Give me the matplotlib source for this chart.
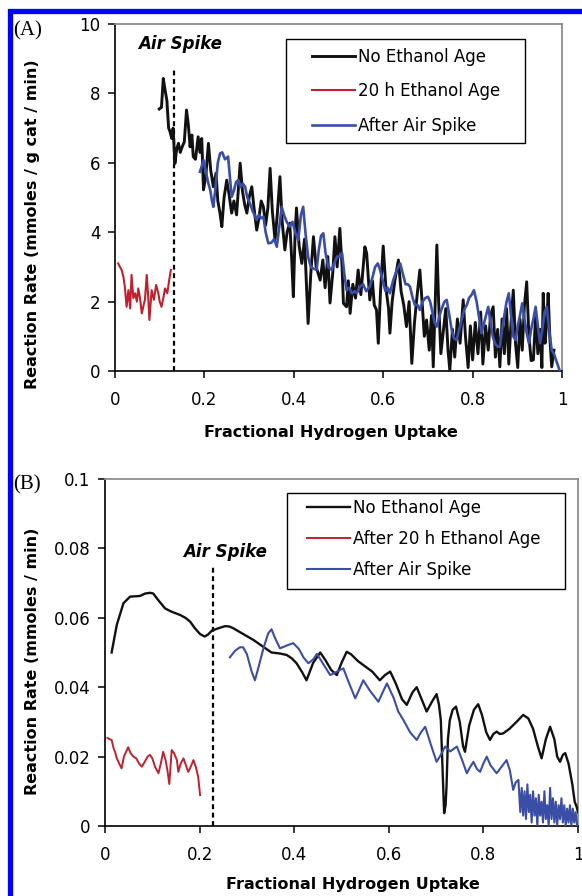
import matplotlib
matplotlib.use('Agg')
import matplotlib.pyplot as plt
from matplotlib.patches import Rectangle

plt.rcParams['font.family'] = ['DejaVu Sans']

# ---------------- Panel A data (rate in mmoles / g cat / min) ----------------
a_black_x = [0.099, 0.104, 0.108, 0.112, 0.116, 0.120, 0.123, 0.127, 0.130, 0.134, 0.138, 0.142, 0.146, 0.150,
             0.155, 0.160, 0.164, 0.168, 0.172, 0.175, 0.180, 0.186, 0.190, 0.194, 0.198, 0.203, 0.209, 0.214,
             0.220, 0.226, 0.230, 0.235, 0.239, 0.244, 0.250, 0.255, 0.261, 0.266, 0.272, 0.280, 0.285, 0.290,
             0.295, 0.300, 0.306, 0.311, 0.317, 0.322, 0.327, 0.332, 0.337, 0.342, 0.347, 0.352, 0.358, 0.363,
             0.369, 0.374, 0.380, 0.385, 0.391, 0.395, 0.399, 0.403, 0.406, 0.412, 0.418, 0.424, 0.432, 0.438,
             0.444, 0.450, 0.459, 0.465, 0.470, 0.476, 0.481, 0.487, 0.492, 0.497, 0.503, 0.508, 0.511, 0.518,
             0.522, 0.526, 0.532, 0.538, 0.544, 0.550, 0.559, 0.563, 0.570, 0.576, 0.580, 0.585, 0.589, 0.594,
             0.600, 0.606, 0.612, 0.615, 0.620, 0.626, 0.634, 0.640, 0.646, 0.652, 0.658, 0.664, 0.670, 0.676,
             0.682, 0.688, 0.692, 0.697, 0.703, 0.708, 0.712, 0.716, 0.720, 0.724, 0.729, 0.734, 0.740, 0.745,
             0.749, 0.755, 0.760, 0.766, 0.772, 0.779, 0.784, 0.790, 0.795, 0.800, 0.806, 0.812, 0.818, 0.823,
             0.829, 0.835, 0.840, 0.846, 0.851, 0.856, 0.861, 0.866, 0.871, 0.876, 0.881, 0.886, 0.891, 0.896,
             0.901, 0.906, 0.911, 0.916, 0.921, 0.926, 0.931, 0.936, 0.941, 0.946, 0.951, 0.955, 0.958, 0.962,
             0.966, 0.969, 0.973, 0.977, 0.982]
a_black_y = [7.55, 7.60, 8.43, 8.10, 7.80, 7.00, 6.90, 6.70, 7.00, 5.98, 6.40, 6.56, 6.30, 6.45,
             6.60, 7.52, 7.10, 6.46, 6.80, 6.18, 6.10, 6.75, 6.30, 6.70, 5.22, 5.60, 6.56, 5.80,
             5.31, 5.70, 4.90, 4.54, 4.16, 5.00, 5.50, 5.10, 4.55, 4.90, 4.50, 5.99, 5.20, 4.80,
             4.55, 5.00, 5.31, 4.70, 4.06, 4.40, 4.90, 4.73, 4.20, 4.70, 5.84, 4.60, 3.78, 4.50,
             5.60, 4.30, 3.49, 4.00, 4.26, 3.30, 2.14, 4.00, 4.70, 3.60, 3.10, 3.80, 1.37, 2.80,
             3.87, 3.00, 2.62, 3.20, 2.40, 3.30, 1.96, 2.80, 3.87, 3.00, 4.11, 3.00, 1.95, 1.85,
             2.60, 1.66, 2.50, 2.10, 2.91, 2.20, 3.58, 3.39, 2.05, 2.60, 1.90, 1.76, 0.80, 2.30,
             3.60, 2.40, 1.80, 1.09, 2.00, 2.60, 3.20, 2.30, 1.90, 1.28, 2.00, 0.22, 1.40, 2.20,
             2.91, 1.80, 1.00, 1.47, 0.60, 1.60, 0.12, 1.80, 3.63, 2.00, 0.50, 1.09, 1.80, 0.60,
             0.03, 1.20, 0.40, 1.50, 0.80, 2.05, 1.00, 0.10, 1.30, 0.32, 1.40, 0.50, 1.70, 0.20,
             1.30, 0.60, 1.60, 1.85, 0.40, 1.20, 0.12, 1.50, 0.50, 1.80, 0.20, 1.40, 2.33, 0.80,
             0.10, 1.50, 0.60, 1.90, 2.57, 1.00, 0.30, 0.32, 1.60, 0.50, 1.20, 0.10, 2.24, 0.80,
             1.40, 2.24, 0.90, 0.12, 0.60]

a_red_x = [0.007, 0.011, 0.015, 0.019, 0.022, 0.026, 0.030, 0.034, 0.037, 0.041, 0.045, 0.049, 0.052, 0.056,
           0.060, 0.064, 0.067, 0.071, 0.074, 0.077, 0.080, 0.082, 0.087, 0.092, 0.097, 0.100, 0.104, 0.108,
           0.112, 0.117, 0.121, 0.125]
a_red_y = [3.10, 3.00, 2.91, 2.70, 2.43, 1.85, 2.33, 1.80, 2.77, 2.10, 2.24, 2.00, 2.38, 2.10,
           1.66, 1.90, 2.05, 2.77, 2.20, 1.47, 2.00, 2.33, 2.05, 2.48, 2.24, 2.00, 1.85, 2.10,
           2.38, 2.24, 2.60, 2.91]

a_blue_x = [0.190, 0.194, 0.198, 0.204, 0.209, 0.213, 0.217, 0.220, 0.225, 0.230, 0.235, 0.240, 0.246, 0.253,
            0.257, 0.261, 0.266, 0.271, 0.276, 0.281, 0.286, 0.291, 0.296, 0.302, 0.308, 0.312, 0.317, 0.322,
            0.327, 0.332, 0.337, 0.343, 0.350, 0.356, 0.362, 0.368, 0.373, 0.378, 0.384, 0.391, 0.397, 0.403,
            0.410, 0.416, 0.421, 0.426, 0.432, 0.438, 0.444, 0.451, 0.456, 0.461, 0.466, 0.471, 0.477, 0.485,
            0.490, 0.497, 0.503, 0.508, 0.513, 0.518, 0.524, 0.530, 0.536, 0.541, 0.548, 0.555, 0.562, 0.570,
            0.576, 0.582, 0.588, 0.593, 0.599, 0.605, 0.610, 0.615, 0.622, 0.630, 0.638, 0.644, 0.650, 0.655,
            0.660, 0.666, 0.671, 0.677, 0.682, 0.688, 0.694, 0.700, 0.705, 0.710, 0.715, 0.720, 0.726, 0.731,
            0.737, 0.742, 0.748, 0.753, 0.758, 0.764, 0.770, 0.776, 0.781, 0.787, 0.792, 0.798, 0.803, 0.809,
            0.815, 0.820, 0.824, 0.830, 0.835, 0.840, 0.845, 0.850, 0.856, 0.861, 0.866, 0.871, 0.876, 0.881,
            0.886, 0.891, 0.896, 0.901, 0.906, 0.911, 0.916, 0.921, 0.926, 0.931, 0.936, 0.941, 0.946, 0.951,
            0.956, 0.961, 0.966, 0.971, 0.977, 0.982, 0.987, 0.992, 0.995]
a_blue_y = [5.74, 5.90, 6.08, 5.70, 5.40, 5.22, 4.90, 4.73, 5.30, 6.00, 6.27, 6.30, 6.10, 6.18,
            5.60, 5.02, 5.20, 5.45, 5.50, 5.30, 5.40, 5.31, 5.00, 4.83, 4.60, 4.50, 4.35, 4.50,
            4.40, 4.45, 4.00, 3.68, 3.70, 3.80, 3.58, 4.20, 4.73, 4.50, 4.30, 4.16, 4.30, 4.00,
            3.78, 4.50, 4.73, 4.00, 3.29, 3.00, 2.95, 2.91, 3.50, 3.90, 3.97, 3.40, 3.00, 2.91,
            3.10, 3.30, 3.29, 3.40, 2.80, 2.33, 2.40, 2.24, 2.30, 2.24, 2.43, 2.50, 2.30, 2.43,
            2.70, 3.00, 3.10, 2.91, 2.60, 2.30, 2.40, 2.24, 2.60, 2.90, 3.10, 2.80, 2.50, 2.50,
            2.43, 2.10, 1.90, 1.90, 1.76, 2.00, 2.10, 2.14, 2.00, 1.70, 1.40, 1.28, 1.60, 1.80,
            2.00, 2.05, 1.60, 1.20, 0.95, 0.89, 1.20, 1.50, 1.76, 1.90, 2.10, 2.20, 2.33, 2.00,
            1.50, 1.09, 1.30, 1.60, 1.85, 1.40, 1.00, 0.80, 0.70, 0.70, 1.20, 1.60, 2.00, 2.24,
            1.60, 1.00, 0.89, 1.30, 1.60, 1.95, 1.50, 1.10, 0.80, 1.20, 1.50, 1.85, 1.30, 0.80,
            1.20, 1.70, 1.85, 1.20, 0.60, 0.50, 0.30, 0.12, 0.00]

# ---------------- Panel B data (rate in mmoles / min) ----------------
b_black_x = [0.014, 0.025, 0.039, 0.053, 0.065, 0.074, 0.085, 0.095, 0.102, 0.112, 0.127, 0.140, 0.159, 0.170,
             0.180, 0.190, 0.201, 0.211, 0.218, 0.226, 0.240, 0.254, 0.263, 0.271, 0.290, 0.314, 0.335, 0.352,
             0.370, 0.384, 0.395, 0.405, 0.416, 0.426, 0.440, 0.455, 0.466, 0.478, 0.490, 0.500, 0.511, 0.520,
             0.535, 0.546, 0.565, 0.581, 0.592, 0.603, 0.615, 0.628, 0.638, 0.650, 0.659, 0.668, 0.680, 0.692,
             0.701, 0.706, 0.710, 0.714, 0.717, 0.720, 0.722, 0.725, 0.729, 0.735, 0.742, 0.750, 0.757, 0.761,
             0.770, 0.780, 0.789, 0.797, 0.806, 0.814, 0.821, 0.828, 0.835, 0.842, 0.855, 0.870, 0.884, 0.895,
             0.905, 0.915, 0.923, 0.932, 0.941, 0.950, 0.956, 0.962, 0.968, 0.973, 0.980, 0.988, 0.993, 0.997,
             1.000]
b_black_y = [0.0500, 0.0580, 0.0642, 0.0661, 0.0662, 0.0663, 0.0670, 0.0672, 0.0670, 0.0652, 0.0627, 0.0618,
             0.0608, 0.0600, 0.0589, 0.0570, 0.0553, 0.0546, 0.0552, 0.0563, 0.0570, 0.0576, 0.0575, 0.0570,
             0.0555, 0.0536, 0.0516, 0.0500, 0.0497, 0.0493, 0.0483, 0.0469, 0.0445, 0.0420, 0.0470, 0.0500,
             0.0478, 0.0450, 0.0435, 0.0470, 0.0502, 0.0495, 0.0475, 0.0464, 0.0445, 0.0420, 0.0435, 0.0445,
             0.0410, 0.0365, 0.0349, 0.0385, 0.0400, 0.0370, 0.0330, 0.0360, 0.0380, 0.0350, 0.0305, 0.0150,
             0.0037, 0.0060, 0.0113, 0.0250, 0.0305, 0.0335, 0.0344, 0.0300, 0.0230, 0.0214, 0.0290, 0.0335,
             0.0351, 0.0320, 0.0270, 0.0248, 0.0265, 0.0272, 0.0265, 0.0267, 0.0280, 0.0300, 0.0320, 0.0310,
             0.0280, 0.0230, 0.0195, 0.0250, 0.0286, 0.0250, 0.0200, 0.0185, 0.0205, 0.0210, 0.0180, 0.0120,
             0.0070, 0.0056, 0.0040]

b_red_x = [0.005, 0.010, 0.014, 0.018, 0.022, 0.025, 0.030, 0.035, 0.040, 0.045, 0.049, 0.054, 0.060, 0.066,
           0.072, 0.078, 0.084, 0.090, 0.095, 0.100, 0.106, 0.113, 0.118, 0.123, 0.128, 0.132, 0.136, 0.139,
           0.141, 0.146, 0.152, 0.155, 0.160, 0.166, 0.171, 0.176, 0.181, 0.187, 0.192, 0.197, 0.201]
b_red_y = [0.0254, 0.0250, 0.0248, 0.0225, 0.0210, 0.0195, 0.0180, 0.0166, 0.0200, 0.0215, 0.0227, 0.0210,
           0.0200, 0.0195, 0.0180, 0.0171, 0.0185, 0.0200, 0.0205, 0.0195, 0.0170, 0.0152, 0.0180, 0.0214,
           0.0190, 0.0160, 0.0121, 0.0180, 0.0219, 0.0210, 0.0190, 0.0156, 0.0180, 0.0195, 0.0175, 0.0156,
           0.0170, 0.0190, 0.0170, 0.0142, 0.0089]

b_blue_x = [0.264, 0.275, 0.285, 0.292, 0.300, 0.310, 0.317, 0.325, 0.335, 0.345, 0.352, 0.360, 0.370, 0.384,
            0.398, 0.410, 0.420, 0.430, 0.440, 0.448, 0.460, 0.476, 0.487, 0.497, 0.504, 0.515, 0.529, 0.538,
            0.546, 0.560, 0.578, 0.587, 0.596, 0.610, 0.620, 0.631, 0.645, 0.659, 0.668, 0.677, 0.690, 0.701,
            0.710, 0.719, 0.730, 0.744, 0.755, 0.765, 0.772, 0.779, 0.786, 0.793, 0.800, 0.807, 0.815, 0.828,
            0.838, 0.849, 0.856, 0.863, 0.868, 0.874, 0.878, 0.881, 0.884, 0.887, 0.890, 0.893, 0.896, 0.899,
            0.902, 0.905, 0.908, 0.911, 0.914, 0.917, 0.920, 0.923, 0.926, 0.929, 0.932, 0.935, 0.938, 0.941,
            0.944, 0.947, 0.950, 0.953, 0.956, 0.959, 0.962, 0.965, 0.968, 0.971, 0.974, 0.977, 0.980, 0.983,
            0.986, 0.989, 0.992, 0.995, 0.998]
b_blue_y = [0.0486, 0.0505, 0.0515, 0.0515, 0.0495, 0.0445, 0.0420, 0.0460, 0.0512, 0.0555, 0.0567, 0.0540,
            0.0512, 0.0520, 0.0527, 0.0510, 0.0485, 0.0469, 0.0480, 0.0496, 0.0470, 0.0435, 0.0442, 0.0450,
            0.0454, 0.0415, 0.0368, 0.0395, 0.0420, 0.0390, 0.0358, 0.0385, 0.0411, 0.0370, 0.0330, 0.0305,
            0.0270, 0.0248, 0.0270, 0.0286, 0.0230, 0.0185, 0.0205, 0.0229, 0.0215, 0.0229, 0.0190, 0.0152,
            0.0170, 0.0185, 0.0165, 0.0156, 0.0180, 0.0200, 0.0175, 0.0152, 0.0170, 0.0190, 0.0160, 0.0104,
            0.0125, 0.0133, 0.0040, 0.0110, 0.0030, 0.0100, 0.0020, 0.0120, 0.0040, 0.0090, 0.0010, 0.0100,
            0.0030, 0.0080, 0.0000, 0.0090, 0.0030, 0.0070, 0.0010, 0.0100, 0.0020, 0.0060, 0.0000, 0.0110,
            0.0020, 0.0080, 0.0010, 0.0070, 0.0000, 0.0060, 0.0020, 0.0080, 0.0010, 0.0060, 0.0000, 0.0050,
            0.0010, 0.0060, 0.0000, 0.0050, 0.0010, 0.0040, 0.0000]

a_spike_x = 0.132
a_spike_top = 8.7
b_spike_x = 0.228
b_spike_top = 0.075

x_ticks = [0, 0.2, 0.4, 0.6, 0.8, 1]
x_labels = ['0', '0.2', '0.4', '0.6', '0.8', '1']
a_y_ticks = [0, 2, 4, 6, 8, 10]
a_y_labels = ['0', '2', '4', '6', '8', '10']
b_y_ticks = [0, 0.02, 0.04, 0.06, 0.08, 0.1]
b_y_labels = ['0', '0.02', '0.04', '0.06', '0.08', '0.1']

BLACK = '#111111'
RED = '#c0212e'
BLUE = '#3b4ea6'
FRAME_GREY = '#8c8c8c'


def style_axes(ax, ymax, yticks, ylabels):
    """Excel-like frame: black left/bottom axes, grey top/right border."""
    ax.set_xlim(0, 1)
    ax.set_ylim(0, ymax)
    ax.set_xticks(x_ticks)
    ax.set_xticklabels(x_labels)
    ax.set_yticks(yticks)
    ax.set_yticklabels(ylabels)
    for loc in ['left', 'bottom']:
        ax.spines[loc].set_color('black')
        ax.spines[loc].set_linewidth(1.2)
    for loc in ['top', 'right']:
        ax.spines[loc].set_color(FRAME_GREY)
        ax.spines[loc].set_linewidth(1.3)
    ax.tick_params(axis='both', direction='out', length=5, width=1.1, labelsize=12, colors='black')
    ax.tick_params(axis='x', pad=9.5)
    ax.tick_params(axis='y', pad=5.5)


def add_legend(ax, anchor, box, spacing):
    """Frameless legend plus a plain black box drawn around it in axes coordinates."""
    leg = ax.legend(loc='upper left', bbox_to_anchor=anchor, fontsize=12, frameon=False,
                    handlelength=2.6, handletextpad=0.15, labelspacing=spacing, borderpad=0, borderaxespad=0)
    ax.add_patch(Rectangle(box[:2], box[2], box[3], transform=ax.transAxes, fill=False,
                           edgecolor='black', linewidth=1.0, zorder=6))
    return leg


fig = plt.figure(figsize=(5.82, 8.96), dpi=100)

# Blue border around the figure (partly cropped on the right/bottom)
fig.patches.append(Rectangle((9.5 / 582, -0.05), 1.2, 1 - 11.5 / 896 + 0.05, transform=fig.transFigure,
                             fill=False, edgecolor='#0000ff', linewidth=3.8, zorder=0))

# ---------------- Panel A ----------------
ax1 = fig.add_axes([115 / 582, 1 - 371 / 896, 447 / 582, 347 / 896])
ax1.plot(a_black_x, a_black_y, color=BLACK, lw=2.1, label='No Ethanol Age', zorder=3)
ax1.plot(a_red_x, a_red_y, color=RED, lw=1.5, label='20 h Ethanol Age', zorder=3)
ax1.plot(a_blue_x, a_blue_y, color=BLUE, lw=1.9, label='After Air Spike', zorder=4)
ax1.plot([a_spike_x, a_spike_x], [0, a_spike_top], color='black', lw=1.6, ls=(0, (2.2, 1.6)), zorder=2)
ax1.text(0.0515, 0.942, 'Air Spike', transform=ax1.transAxes, fontsize=12, fontweight='bold',
         fontstyle='italic', va='center')
style_axes(ax1, 10, a_y_ticks, a_y_labels)
ax1.set_xlabel('Fractional Hydrogen Uptake', fontsize=11.5, fontweight='bold')
ax1.xaxis.set_label_coords(0.483, -0.155)
ax1.set_ylabel('Reaction Rate (mmoles / g cat / min)', fontsize=11.5, fontweight='bold')
ax1.yaxis.set_label_coords(-0.168, 0.424)
add_legend(ax1, (0.4407, 0.932), (0.3826, 0.657, 0.5347, 0.2997), 1.0)
fig.text(13 / 582, 1 - 31 / 896, '(A)', family='Liberation Serif', fontsize=15, va='center', ha='left')

# ---------------- Panel B ----------------
ax2 = fig.add_axes([105 / 582, 1 - 826 / 896, 473 / 582, 347 / 896])
ax2.plot(b_black_x, b_black_y, color=BLACK, lw=1.7, label='No Ethanol Age', zorder=3)
ax2.plot(b_red_x, b_red_y, color=RED, lw=1.4, label='After 20 h Ethanol Age', zorder=3)
ax2.plot(b_blue_x, b_blue_y, color=BLUE, lw=1.5, label='After Air Spike', zorder=4)
ax2.plot([b_spike_x, b_spike_x], [0, b_spike_top], color='black', lw=1.6, ls=(0, (2.2, 1.6)), zorder=2)
ax2.text(0.165, 0.79, 'Air Spike', transform=ax2.transAxes, fontsize=12, fontweight='bold',
         fontstyle='italic', va='center')
style_axes(ax2, 0.1, b_y_ticks, b_y_labels)
ax2.set_xlabel('Fractional Hydrogen Uptake', fontsize=11.5, fontweight='bold')
ax2.xaxis.set_label_coords(0.524, -0.147)
ax2.set_ylabel('Reaction Rate (mmoles / min)', fontsize=11.5, fontweight='bold')
ax2.yaxis.set_label_coords(-0.137, 0.476)
add_legend(ax2, (0.427, 0.9415), (0.3848, 0.683, 0.5877, 0.2767), 0.78)
fig.text(13 / 582, 1 - 485 / 896, '(B)', family='Liberation Serif', fontsize=15, va='center', ha='left')

fig.savefig('out.png', dpi=100)
